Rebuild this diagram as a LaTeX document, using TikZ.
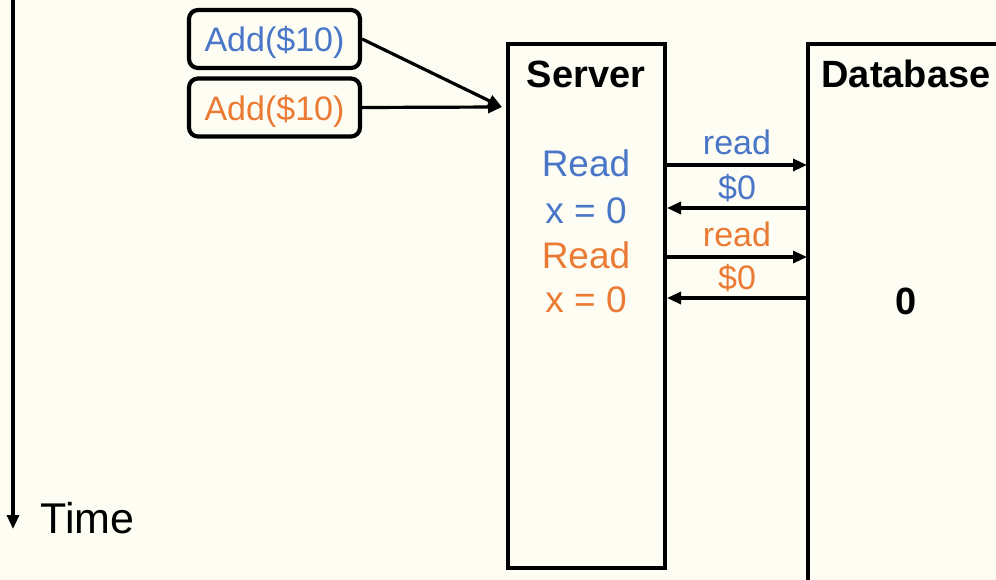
\documentclass[tikz,border=0pt]{standalone}
\usepackage{fontspec}
\setmainfont{Liberation Sans}
\usepackage{tikz}
\usepackage{xcolor}
\usetikzlibrary{arrows.meta}
\definecolor{bgcream}{HTML}{FDFDF3}
\definecolor{reqblue}{HTML}{4A76C7}
\definecolor{reqorange}{HTML}{EB7B34}

\begin{document}
\begin{tikzpicture}[x=1pt,y=-1pt]
	\tikzstyle{edge} = [draw=black, line width=3.2pt, -{Triangle[length=14pt,width=12pt]}]
	\tikzstyle{box} = [draw=black, line width=4.2pt, rectangle, inner sep=0]
	\tikzstyle{cmd} = [box, rounded corners=9pt, minimum width=171, minimum height=58, text height=30pt, text depth=4pt, font=\fontsize{34}{40}\selectfont]
	\tikzstyle{big} = [font=\fontsize{37}{44}\selectfont]
	\tikzstyle{msg} = [font=\fontsize{34}{40}\selectfont]
	\tikzstyle{head} = [font=\bfseries\fontsize{38}{44}\selectfont]
	\fill [bgcream] (0,0) rectangle (996,580);
	\useasboundingbox (0,0) rectangle (996,580);
		% time axis
		\coordinate (t0) at (13,0);
		\coordinate (t1) at (13,529);
		\node[font=\fontsize{43}{50}\selectfont, anchor=west] (time) at (37,518) {Time};
		% clients
		\node[cmd, text=reqblue]   (add1) at (274.5,39)  {Add(\$10)};
		\node[cmd, text=reqorange] (add2) at (274.5,107.5) {Add(\$10)};
		% server and database
		\node[box, minimum width=157, minimum height=524] (server) at (586.5,306) {};
		\node[box, minimum width=210, minimum height=560] (db) at (913,324) {};
		\node[head] (srvname) at (586,74) {Server};
		\node[head] (dbname)  at (906,74) {Database};
		\node[head] (value)   at (906,301) {0};
		\node[big, text=reqblue]   (r1) at (586,163) {Read};
		\node[big, text=reqblue]   (x1) at (586,211) {x = 0};
		\node[big, text=reqorange] (r2) at (586,255) {Read};
		\node[big, text=reqorange] (x2) at (586,300) {x = 0};
		\coordinate (entry) at (502,107);
		\coordinate (s1) at (667,165);
		\coordinate (d1) at (807,165);
		\coordinate (s2) at (667,208);
		\coordinate (d2) at (807,208);
		\coordinate (s3) at (667,257);
		\coordinate (d3) at (807,257);
		\coordinate (s4) at (667,298);
		\coordinate (d4) at (807,298);
	\draw [edge] (t0) -- (t1);
	\draw [edge] (add1.east) -- (entry);
	\draw [edge] (add2.east) -- (entry);
	\draw [edge] (s1) -- node[msg, text=reqblue, above, yshift=5pt] {read} (d1);
	\draw [edge] (d2) -- node[msg, text=reqblue, above, yshift=1pt] {\$0} (s2);
	\draw [edge] (s3) -- node[msg, text=reqorange, above, yshift=5pt] {read} (d3);
	\draw [edge] (d4) -- node[msg, text=reqorange, above, yshift=1pt] {\$0} (s4);
\end{tikzpicture}
\end{document}
